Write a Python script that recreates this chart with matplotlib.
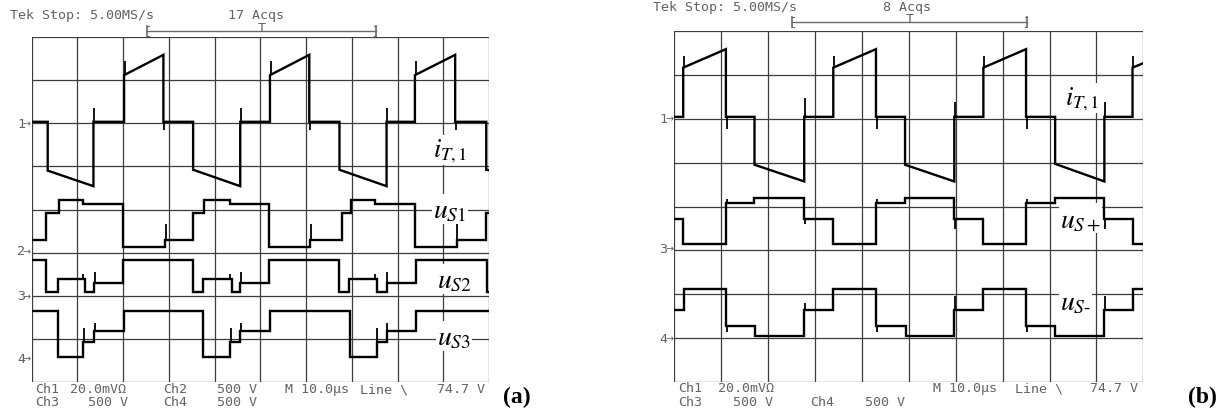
import numpy as np
import matplotlib
matplotlib.use("Agg")
import matplotlib.pyplot as plt
from matplotlib.lines import Line2D

W, H = 1223, 414
plt.rcParams["mathtext.fontset"] = "stix"

# all traces in scope divisions: x 0..10 (10 us/div), y -4..4
# each trace = segment edges, level at segment start, level at segment end

# ---------------- (a) ----------------
a_it1_x = [0.00, 0.35, 1.35, 2.02, 2.88, 3.53, 4.56, 5.21, 6.07, 6.73, 7.76, 8.38, 9.26, 9.94, 10.0]
a_it1_y0 = [2.03, 0.90, 2.03, 3.11, 2.03, 0.92, 2.03, 3.11, 2.03, 0.92, 2.03, 3.11, 2.03, 0.92]
a_it1_y1 = [2.03, 0.54, 2.03, 3.58, 2.03, 0.54, 2.03, 3.58, 2.03, 0.54, 2.03, 3.58, 2.03, 0.91]
a_it1_spk_x = [1.37, 4.58, 7.78, 2.04, 5.23, 8.40, 2.90, 6.09, 9.28]
a_it1_spk_y = [2.36, 2.36, 2.36, 3.43, 3.43, 3.43, 1.85, 1.85, 1.85]

a_us1_x = [0.00, 0.31, 0.60, 1.13, 2.00, 2.92, 3.53, 3.77, 4.34, 5.20, 6.09, 6.78, 6.98, 7.51, 8.38, 9.29, 9.94, 10.0]
a_us1_y = [-0.71, -0.09, 0.22, 0.13, -0.86, -0.71, -0.09, 0.22, 0.13, -0.86, -0.71, -0.09, 0.22, 0.13, -0.86, -0.71, -0.09]
a_us1_spk_x = [2.93, 6.10, 9.30]
a_us1_spk_y = [-0.34, -0.34, -0.34]

a_us2_x = [0.00, 0.31, 0.58, 1.17, 1.36, 2.00, 3.52, 3.75, 4.37, 4.56, 5.20, 6.73, 6.94, 7.54, 7.76, 8.40, 9.96, 10.0]
a_us2_y = [-1.17, -1.92, -1.61, -1.92, -1.69, -1.17, -1.92, -1.61, -1.92, -1.69, -1.17, -1.92, -1.61, -1.92, -1.69, -1.17, -1.92]
a_us2_spk_x = [1.13, 1.39, 4.33, 4.58, 7.50, 7.78]
a_us2_spk_y = [-1.50, -1.45, -1.50, -1.45, -1.50, -1.45]

a_us3_x = [0.00, 0.58, 1.13, 1.36, 2.02, 3.74, 4.34, 4.56, 5.21, 6.96, 7.54, 7.76, 8.40, 10.0]
a_us3_y = [-2.34, -3.42, -3.07, -2.81, -2.34, -3.42, -3.07, -2.81, -2.34, -3.42, -3.07, -2.81, -2.34]
a_us3_spk_x = [1.14, 1.38, 4.35, 4.58, 7.55, 7.78]
a_us3_spk_y = [-2.75, -2.62, -2.75, -2.62, -2.75, -2.62]

a_gnd_ch = ["1", "2", "3", "4"]
a_gnd_y = [2.0, -0.96, -2.0, -3.45]

# ---------------- (b) ----------------
b_it1_x = [0.00, 0.19, 1.10, 1.71, 2.77, 3.39, 4.30, 4.92, 5.97, 6.59, 7.50, 8.12, 9.17, 9.77, 10.0]
b_it1_y0 = [2.04, 3.16, 2.04, 0.95, 2.04, 3.16, 2.04, 0.95, 2.04, 3.16, 2.04, 0.97, 2.04, 3.16]
b_it1_y1 = [2.04, 3.58, 2.04, 0.57, 2.04, 3.58, 2.04, 0.57, 2.04, 3.58, 2.04, 0.57, 2.04, 3.26]
b_it1_spk_x = [0.21, 3.41, 6.61, 9.79, 2.79, 5.99, 9.19, 1.12, 4.32, 7.52]
b_it1_spk_y = [3.43, 3.43, 3.43, 3.43, 2.48, 2.37, 2.37, 1.76, 1.76, 1.76]

b_usp_x = [0.00, 0.19, 1.10, 1.69, 2.77, 3.39, 4.30, 4.92, 5.97, 6.59, 7.50, 8.12, 9.17, 9.77, 10.0]
b_usp_y = [-0.28, -0.86, 0.08, 0.20, -0.28, -0.86, 0.08, 0.20, -0.28, -0.86, 0.08, 0.20, -0.28, -0.86]
b_usp_spk_x = [1.12, 4.32, 7.52, 2.79, 5.99, 9.19]
b_usp_spk_y = [0.17, 0.17, 0.17, -0.40, -0.51, -0.51]

b_usm_x = [0.00, 0.21, 1.10, 1.72, 2.77, 3.39, 4.30, 4.93, 5.97, 6.59, 7.50, 8.12, 9.17, 9.77, 10.0]
b_usm_y = [-2.35, -1.875, -2.72, -2.94, -2.35, -1.875, -2.72, -2.94, -2.35, -1.875, -2.72, -2.94, -2.35, -1.875]
b_usm_spk_x = [1.12, 4.32, 7.52, 2.79, 5.99, 9.19]
b_usm_spk_y = [-2.86, -2.86, -2.86, -2.20, -2.03, -2.03]

b_gnd_ch = ["1", "3", "4"]
b_gnd_y = [2.0, -0.96, -3.0]


def trace_xy(edges, y0, y1=None):
    if y1 is None:
        y1 = y0
    xs, ys = [], []
    for i in range(len(y0)):
        xs += [edges[i], edges[i + 1]]
        ys += [y0[i], y1[i]]
    return np.array(xs), np.array(ys)


def draw_trace(ax, edges, y0, y1=None, spk_x=(), spk_y=()):
    xs, ys = trace_xy(edges, y0, y1)
    ax.plot(xs, ys, color="black", lw=1.7, solid_joinstyle="miter", zorder=3)
    if len(spk_x):
        base = np.interp(spk_x, xs, ys)
        ax.vlines(spk_x, base, spk_y, color="black", lw=1.3, zorder=3)


def scope_axes(fig, x0, x1, y0, y1):
    ax = fig.add_axes([x0 / W, 1 - y1 / H, (x1 - x0) / W, (y1 - y0) / H])
    ax.set_xlim(0, 10)
    ax.set_ylim(-4, 4)
    for v in range(11):
        ax.axvline(v, color="#3c3c3c", lw=0.9, zorder=1)
    for h in range(-4, 5):
        ax.axhline(h, color="#3c3c3c", lw=0.9, zorder=1)
    ax.set_xticks([])
    ax.set_yticks([])
    for s in ax.spines.values():
        s.set_visible(False)
    return ax


def tek(fig, x, y, s, **kw):
    fig.text(x / W, 1 - y / H, s, family="DejaVu Sans Mono", size=9.6,
             color="#636363", va="center", ha=kw.pop("ha", "left"), **kw)


def bracket(fig, x0, x1, y, xt):
    c = "#6a6a6a"
    fig.add_artist(Line2D([x0 / W, x1 / W], [1 - y / H] * 2, color=c, lw=1.0))
    for xe, d in ((x0, 2), (x1, -2)):
        fig.add_artist(Line2D([xe / W] * 2, [1 - (y - 5) / H, 1 - (y + 5) / H], color=c, lw=1.2))
        fig.add_artist(Line2D([xe / W, (xe + d) / W], [1 - (y - 5) / H] * 2, color=c, lw=0.8))
        fig.add_artist(Line2D([xe / W, (xe + d) / W], [1 - (y + 5) / H] * 2, color=c, lw=0.8))
    tek(fig, xt, y - 3, "T", ha="center")


def ground_marks(fig, ax, chans, levels, xpx):
    for ch, lv in zip(chans, levels):
        ypx = H - ax.transData.transform((0, lv))[1]
        tek(fig, xpx - 10, ypx, ch, ha="center")
        fig.text(xpx / W, 1 - ypx / H, "\u2192", family="DejaVu Sans", size=7,
                 color="#636363", va="center", ha="right")


def label(fig, x, y, s, size=20):
    fig.text(x / W, 1 - y / H, s, size=size, ha="left", va="baseline", zorder=5,
             bbox=dict(facecolor="white", edgecolor="none", pad=1.0))


fig = plt.figure(figsize=(W / 100, H / 100), dpi=100)

# panel (a)
ax_a = scope_axes(fig, 31.7, 489.0, 37.7, 383.3)
draw_trace(ax_a, a_it1_x, a_it1_y0, a_it1_y1, a_it1_spk_x, a_it1_spk_y)
draw_trace(ax_a, a_us1_x, a_us1_y, None, a_us1_spk_x, a_us1_spk_y)
draw_trace(ax_a, a_us2_x, a_us2_y, None, a_us2_spk_x, a_us2_spk_y)
draw_trace(ax_a, a_us3_x, a_us3_y, None, a_us3_spk_x, a_us3_spk_y)
ground_marks(fig, ax_a, a_gnd_ch, a_gnd_y, 31.0)

tek(fig, 10, 15, "Tek Stop: 5.00MS/s")
tek(fig, 228, 15, "17 Acqs")
bracket(fig, 146.7, 375.7, 31.7, 261.7)
for x, y, s in [(35, 390, "Ch1"), (70, 390, "20.0mV\u03a9"), (163, 390, "Ch2"), (217, 390, "500 V"),
                (285, 390, "M 10.0\u03bcs"), (360, 390, "Line \\"), (437, 390, "74.7 V"),
                (35, 403, "Ch3"), (88, 403, "500 V"), (163, 403, "Ch4"), (217, 403, "500 V")]:
    tek(fig, x, y, s)

label(fig, 433, 157, r"$i_{T,\mathit{1}}$", 19)
label(fig, 433, 218, r"$u_{S\mathit{1}}$")
label(fig, 437, 288, r"$u_{S\mathit{2}}$")
label(fig, 437, 345, r"$u_{S\mathit{3}}$")
fig.text(503 / W, 1 - 397 / H, "(a)", family="Liberation Serif", weight="bold",
         size=17, va="center", ha="left")

# panel (b)
ax_b = scope_axes(fig, 674.3, 1143.3, 31.7, 383.3)
draw_trace(ax_b, b_it1_x, b_it1_y0, b_it1_y1, b_it1_spk_x, b_it1_spk_y)
draw_trace(ax_b, b_usp_x, b_usp_y, None, b_usp_spk_x, b_usp_spk_y)
draw_trace(ax_b, b_usm_x, b_usm_y, None, b_usm_spk_x, b_usm_spk_y)
ground_marks(fig, ax_b, b_gnd_ch, b_gnd_y, 673.5)

tek(fig, 653, 7.5, "Tek Stop: 5.00MS/s")
tek(fig, 883, 7.5, "8 Acqs")
bracket(fig, 791.7, 1026.7, 22.7, 910)
for x, y, s in [(678, 389, "Ch1"), (718, 389, "20.0mV\u03a9"), (933, 389, "M 10.0\u03bcs"),
                (1015, 389, "Line \\"), (1090, 389, "74.7 V"),
                (678, 403, "Ch3"), (733, 403, "500 V"), (810, 403, "Ch4"), (865, 403, "500 V")]:
    tek(fig, x, y, s)

label(fig, 1065, 105, r"$i_{T,\mathit{1}}$", 19)
label(fig, 1060, 227, r"$u_{S+}$")
label(fig, 1060, 310, r"$u_{S\text{-}}$")
fig.text(1188 / W, 1 - 397 / H, "(b)", family="Liberation Serif", weight="bold",
         size=17, va="center", ha="left")

fig.savefig("out.png", dpi=100)
